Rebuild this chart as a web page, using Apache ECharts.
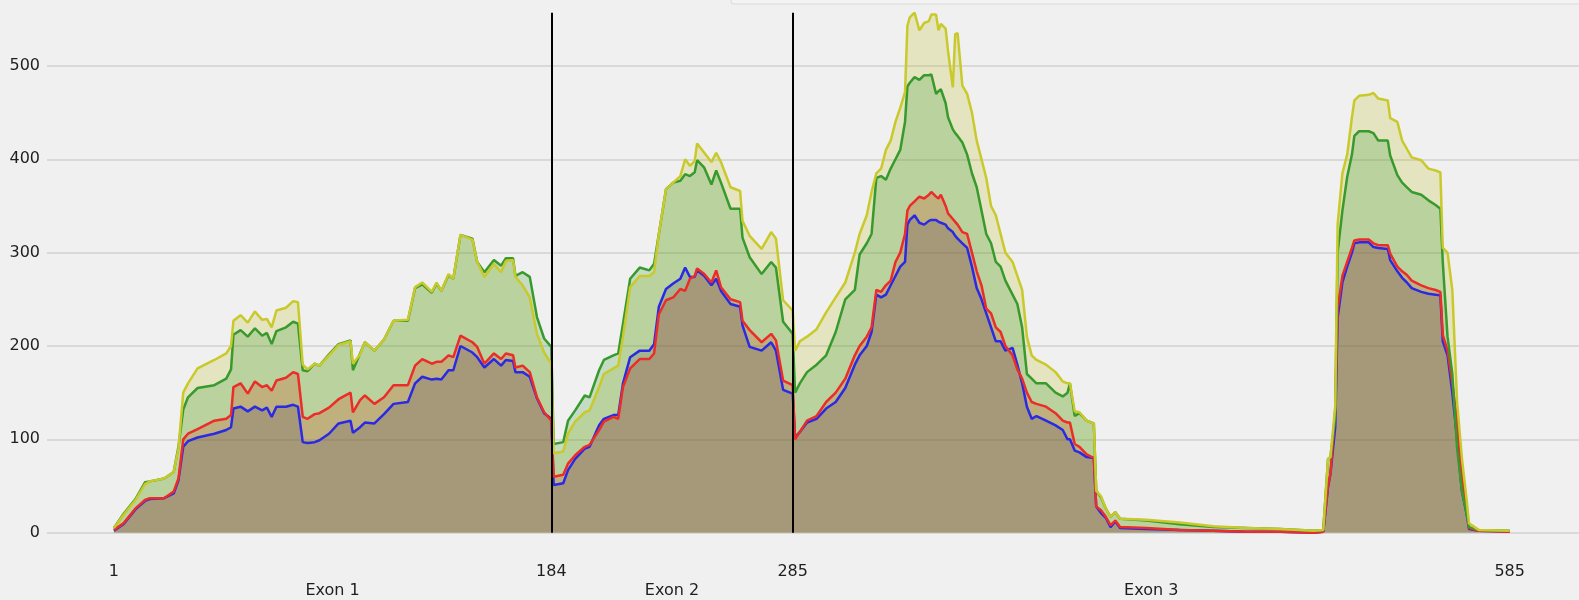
<!DOCTYPE html>
<html>
<head>
<meta charset="utf-8">
<script src="https://cdn.jsdelivr.net/npm/echarts@6/dist/echarts.min.js"></script>
<style>
    html, body { margin: 0; padding: 0; background: #f0f0f0; }
    #main { width: 1579px; height: 600px; }
</style>
</head>
<body>
<div id="main"></div>
<script>
// sampled positions along the transcript (exon 1 | exon 2 | exon 3)
var positions = [
    1, 5, 10, 14, 16, 22, 26, 28, 30, 32, 36, 43, 48, 50, 51, 54, 57, 60, 63, 65,
    67, 69, 73, 76, 78, 80, 82, 85, 87, 91, 95, 100, 101, 104, 106, 110, 114, 118, 124, 127,
    130, 134, 136, 138, 141, 143, 146, 151, 153, 156, 160, 163, 165, 168, 169, 172, 175, 178, 181, 184,
    185, 189, 191, 194, 198, 200, 204, 206, 210, 212, 214, 217, 221, 225, 227, 229, 232, 235, 238, 240,
    242, 244, 245, 248, 251, 253, 255, 259, 263, 264, 267, 272, 276, 278, 281, 285,
    286, 288, 291, 295, 299, 303, 307, 311, 313, 316, 318, 320, 322, 324, 326, 328, 330, 332, 333, 334,
    336, 338, 340, 342, 343, 345, 346, 347, 349, 350, 352, 353, 354, 356, 358, 360, 362, 364, 366, 368,
    370, 372, 374, 377, 379, 381, 383, 385, 387, 391, 395, 398, 400, 401, 403, 405, 408, 411, 412, 414,
    416, 418, 420, 422, 433, 447, 461, 475, 489, 503, 507, 509, 510, 512, 513, 515, 517, 519, 520, 522,
    526, 528, 530, 534, 535, 538, 540, 542, 544, 548, 551, 554, 556, 557, 559, 561, 563, 565, 567, 568,
    572, 585
];

var yellowCov = [
    5, 19, 35, 52, 55, 58, 65, 90, 150, 160, 176, 185, 192, 200, 227, 233, 225, 237, 228, 229,
    220, 238, 241, 248, 247, 180, 175, 181, 179, 190, 201, 205, 181, 191, 204, 195, 207, 227, 228, 263,
    268, 258, 268, 259, 277, 272, 319, 314, 290, 274, 288, 279, 291, 292, 274, 265, 252, 213, 193, 181,
    85, 87, 106, 119, 129, 131, 156, 170, 176, 179, 210, 263, 275, 275, 279, 320, 368, 375, 382, 400,
    393, 398, 417, 407, 397, 407, 397, 370, 366, 334, 318, 304, 322, 315, 249, 238,
    195, 205, 210, 218, 236, 252, 268, 300, 320, 340, 365, 385, 390, 410, 420, 440, 455, 472, 543, 552,
    557, 538, 546, 548, 555, 555, 538, 545, 540, 516, 477, 534, 535, 479, 470, 450, 420, 400, 380, 350,
    340, 320, 300, 290, 275, 260, 210, 190, 185, 180, 172, 162, 160, 160, 130, 129, 120, 117, 45, 39,
    26, 17, 22, 15, 14, 11, 7, 5, 4, 2, 3, 79, 81, 135, 330, 385, 405, 445, 463, 468,
    469, 471, 465, 463, 444, 440, 420, 411, 402, 399, 390, 388, 386, 305, 300, 260, 140, 80, 35, 10,
    3, 2
];

var greenCov = [
    5, 20, 36, 54, 55, 58, 65, 92, 132, 145, 155, 158, 165, 175, 212, 217, 210, 219, 211, 214,
    202, 216, 220, 226, 224, 174, 173, 181, 179, 191, 202, 206, 174, 192, 204, 195, 207, 227, 227, 262,
    266, 257, 267, 259, 276, 272, 319, 315, 290, 279, 292, 286, 294, 294, 275, 279, 274, 231, 208, 199,
    95, 97, 120, 131, 147, 145, 174, 185, 190, 192, 224, 272, 284, 281, 288, 320, 368, 375, 377, 384,
    382, 386, 399, 391, 373, 388, 375, 347, 347, 316, 295, 277, 290, 284, 226, 213,
    150, 160, 172, 180, 190, 215, 250, 260, 298, 310, 320, 380, 382, 378, 390, 400, 410, 440, 478, 482,
    488, 485, 490, 490, 491, 470, 473, 475, 460, 445, 432, 428, 425, 418, 405, 385, 370, 345, 320, 310,
    290, 285, 270, 255, 245, 220, 170, 165, 160, 160, 150, 146, 150, 160, 125, 128, 120, 117, 45, 38,
    26, 17, 22, 15, 13, 9, 6, 5, 4, 2, 3, 79, 81, 125, 300, 345, 381, 405, 425, 430,
    430, 428, 420, 420, 404, 383, 375, 370, 365, 362, 356, 351, 347, 290, 210, 170, 90, 45, 20, 6,
    3, 2
];

var redCov = [
    3, 10, 26, 35, 37, 37, 44, 58, 100, 106, 111, 120, 122, 126, 156, 160, 149, 162, 156, 158,
    152, 163, 166, 172, 170, 124, 122, 127, 128, 134, 143, 150, 129, 142, 147, 138, 145, 158, 158, 179,
    186, 181, 183, 183, 190, 188, 211, 204, 199, 181, 192, 186, 192, 190, 177, 179, 172, 145, 129, 120,
    60, 62, 74, 83, 92, 94, 110, 119, 124, 122, 156, 176, 186, 186, 192, 234, 249, 252, 261, 259,
    272, 275, 283, 277, 268, 281, 263, 250, 247, 227, 217, 204, 213, 206, 163, 158,
    100, 108, 120, 125, 140, 150, 165, 190, 200, 210, 220, 260, 258, 265, 270, 290, 300, 320, 345, 350,
    355, 360, 358, 362, 365, 360, 358, 362, 350, 342, 336, 333, 330, 322, 320, 300, 280, 265, 240, 235,
    220, 215, 200, 190, 175, 165, 150, 140, 138, 135, 128, 120, 118, 118, 95, 92, 84, 80, 28, 24,
    17, 8, 13, 6, 5, 3, 2, 1, 1, 0, 1, 51, 63, 131, 240, 275, 290, 305, 313, 314,
    314, 310, 308, 308, 299, 285, 280, 276, 270, 265, 262, 260, 258, 212, 195, 160, 120, 60, 25, 5,
    2, 1
];

var blueCov = [
    2, 9, 25, 34, 36, 37, 42, 56, 92, 98, 102, 106, 110, 113, 133, 135, 130, 135, 131, 134,
    124, 135, 135, 137, 135, 97, 96, 97, 99, 106, 117, 120, 107, 113, 118, 117, 127, 138, 140, 160,
    167, 164, 165, 164, 174, 174, 200, 193, 188, 177, 186, 179, 185, 184, 172, 172, 167, 144, 128, 122,
    51, 53, 67, 79, 90, 92, 115, 122, 126, 126, 160, 188, 195, 195, 202, 242, 261, 267, 272, 284,
    274, 274, 281, 275, 265, 272, 259, 245, 242, 222, 199, 195, 204, 195, 153, 149,
    102, 108, 118, 122, 133, 140, 155, 180, 190, 200, 215, 255, 252, 255, 265, 275, 285, 290, 330, 335,
    340, 332, 330, 334, 335, 335, 333, 332, 330, 326, 322, 318, 315, 310, 305, 285, 262, 250, 235, 220,
    205, 205, 195, 198, 180, 160, 135, 122, 125, 120, 115, 110, 100, 100, 88, 86, 81, 80, 28, 21,
    16, 6, 12, 5, 4, 3, 2, 1, 1, 0, 1, 49, 63, 113, 230, 268, 285, 300, 310, 311,
    311, 306, 305, 304, 292, 280, 273, 268, 262, 258, 256, 255, 254, 205, 190, 150, 100, 45, 20, 4,
    2, 1
];

var tickPositions = [1, 184, 285, 585];
var exonBounds = [1, 184, 285, 585];
var exonNames = ['Exon 1', 'Exon 2', 'Exon 3'];

var chart = echarts.init(document.getElementById('main'));

function pairs(vals) {
    return positions.map(function (p, i) { return [p, vals[i]]; });
}

var exonCenters = exonNames.map(function (n, i) {
    return (exonBounds[i] + exonBounds[i + 1]) / 2;
});

var tracks = [
    { name: 'yellow', data: yellowCov, fill: 'rgba(180,180,0,0.2)', line: '#c9c92c' },
    { name: 'green', data: greenCov, fill: 'rgba(20,140,20,0.2)', line: '#389a2c' },
    { name: 'red', data: redCov, fill: 'rgba(214,38,0,0.2)', line: '#ec2c28' },
    { name: 'blue', data: blueCov, fill: 'rgba(72,66,104,0.2)', line: '#2a2ae4' }
];

var series = [];
// fills first
tracks.forEach(function (t) {
    series.push({
        name: t.name + ' fill',
        type: 'line',
        data: pairs(t.data),
        showSymbol: false,
        silent: true,
        lineStyle: { width: 0 },
        areaStyle: { color: t.fill, opacity: 1 },
        z: 2
    });
});
// lines on top (blue, red, green, yellow)
tracks.slice().reverse().forEach(function (t) {
    series.push({
        name: t.name,
        type: 'line',
        data: pairs(t.data),
        showSymbol: false,
        silent: true,
        lineStyle: { color: t.line, width: 2.5 },
        z: 3
    });
});
// exon boundaries
series[series.length - 1].markLine = {
    silent: true,
    symbol: ['none', 'none'],
    label: { show: false },
    lineStyle: { color: '#000', width: 2, type: 'solid' },
    data: [{ xAxis: 184 }, { xAxis: 285 }],
    z: 5
};

var option = {
    backgroundColor: '#f0f0f0',
    animation: false,
    textStyle: { fontFamily: 'DejaVu Sans' },
    grid: { left: 47, right: 0, top: 12.7, bottom: 67.3 },
    graphic: [{
        type: 'rect',
        shape: { x: 731, y: -30, width: 900, height: 34, r: 3 },
        style: { fill: '#f3f3f3', stroke: '#d9d9d9', lineWidth: 1 },
        silent: true
    }],
    xAxis: [{
        type: 'value',
        min: -27,
        max: 614,
        axisLine: { show: false },
        axisTick: { show: false },
        splitLine: { show: false },
        axisLabel: {
            customValues: tickPositions,
            margin: 31,
            fontSize: 16,
            color: '#1e1e1e',
            fontFamily: 'DejaVu Sans'
        }
    }, {
        type: 'value',
        position: 'bottom',
        min: -27,
        max: 614,
        axisLine: { show: false },
        axisTick: { show: false },
        splitLine: { show: false },
        axisLabel: {
            customValues: exonCenters,
            margin: 50,
            fontSize: 16,
            color: '#1e1e1e',
            fontFamily: 'DejaVu Sans',
            formatter: function (v) {
                var i = exonCenters.indexOf(v);
                return i >= 0 ? exonNames[i] : '';
            }
        }
    }],
    yAxis: {
        type: 'value',
        min: 0,
        max: 557,
        interval: 100,
        axisLine: { show: false },
        axisTick: { show: false },
        splitLine: { showMaxLine: false, lineStyle: { color: '#d2d2d2', width: 1.5 } },
        axisLabel: {
            showMaxLabel: false,
            margin: 7,
            fontSize: 16,
            color: '#1e1e1e',
            fontFamily: 'DejaVu Sans'
        }
    },
    series: series
};

chart.setOption(option);
</script>
</body>
</html>
